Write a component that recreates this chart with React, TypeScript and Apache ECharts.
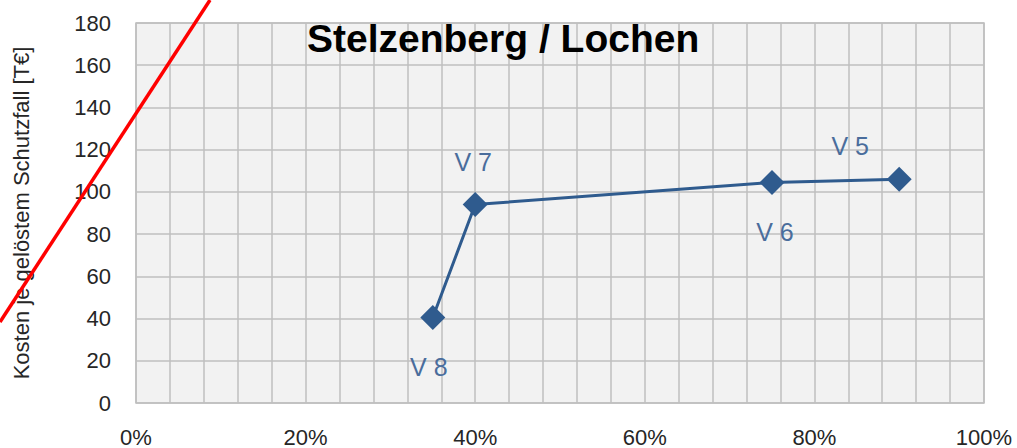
import React, { useEffect, useRef } from "react";
import * as echarts from "echarts";

const chartTitle = "Stelzenberg / Lochen";
const yAxisTitle = "Kosten je gelöstem Schutzfall [T€]";
const variantNames = ["V 8", "V 7", "V 6", "V 5"];
const shareValues = [0.35, 0.4, 0.75, 0.9];
const costValues = [40.5, 94, 104.5, 106];
const labelOffsets: [number, number][] = [
  [-4, 49],
  [-2, -43],
  [3, 50],
  [-49, -33],
];

export default function App() {
  const ref = useRef<HTMLDivElement>(null);
  useEffect(() => {
    document.body.style.margin = "0";
    if (!ref.current) return;
    const chart = echarts.init(ref.current, undefined, { renderer: "svg" });
    const font = "'Liberation Sans', Arial, sans-serif";
    const gridColor = "#bfbfbf";
    chart.setOption({
      animation: false,
      backgroundColor: "#ffffff",
      grid: {
        left: 136,
        top: 23,
        width: 848,
        height: 384,
        show: true,
        backgroundColor: "#f2f2f2",
        borderColor: gridColor,
        borderWidth: 1.5,
      },
      xAxis: {
        type: "value",
        min: 0,
        max: 1,
        interval: 0.2,
        axisLine: { show: false },
        axisTick: { show: false },
        axisLabel: {
          formatter: (v: number) => Math.round(v * 100) + "%",
          fontFamily: font,
          fontSize: 22,
          color: "#262626",
          margin: 23,
        },
        splitLine: { show: true, lineStyle: { color: gridColor, width: 1.5 } },
        minorTick: { show: false, splitNumber: 5 },
        minorSplitLine: { show: true, lineStyle: { color: gridColor, width: 1.5 } },
      },
      yAxis: {
        type: "value",
        min: 0,
        max: 180,
        interval: 20,
        name: yAxisTitle,
        nameLocation: "middle",
        nameGap: 104,
        nameTextStyle: { fontFamily: font, fontSize: 22, color: "#262626" },
        axisLine: { show: false },
        axisTick: { show: false },
        axisLabel: {
          fontFamily: font,
          fontSize: 22,
          color: "#262626",
          margin: 25,
        },
        splitLine: { show: true, lineStyle: { color: gridColor, width: 1.5 } },
      },
      series: [
        {
          type: "line",
          data: shareValues.map((x, i) => ({
            value: [x, costValues[i]],
            name: variantNames[i],
            label: {
              show: true,
              position: "inside",
              offset: labelOffsets[i],
              formatter: variantNames[i],
              fontFamily: font,
              fontSize: 25,
              color: "#4a6d9c",
            },
          })),
          symbol: "diamond",
          symbolSize: 25,
          itemStyle: { color: "#2f5b8e" },
          lineStyle: { color: "#2f5b8e", width: 3 },
          z: 3,
        },
      ],
      graphic: [
        {
          type: "text",
          left: 307,
          top: 19,
          style: {
            text: chartTitle,
            font: `bold 39px ${font}`,
            fill: "#000000",
          },
          z: 10,
        },
        {
          type: "line",
          shape: { x1: 0, y1: 322, x2: 210, y2: 0 },
          style: { stroke: "#ff0000", lineWidth: 3.5 },
          z: 20,
        },
      ],
    });
    return () => chart.dispose();
  }, []);
  return <div ref={ref} style={{ width: 1017, height: 448 }} />;
}
